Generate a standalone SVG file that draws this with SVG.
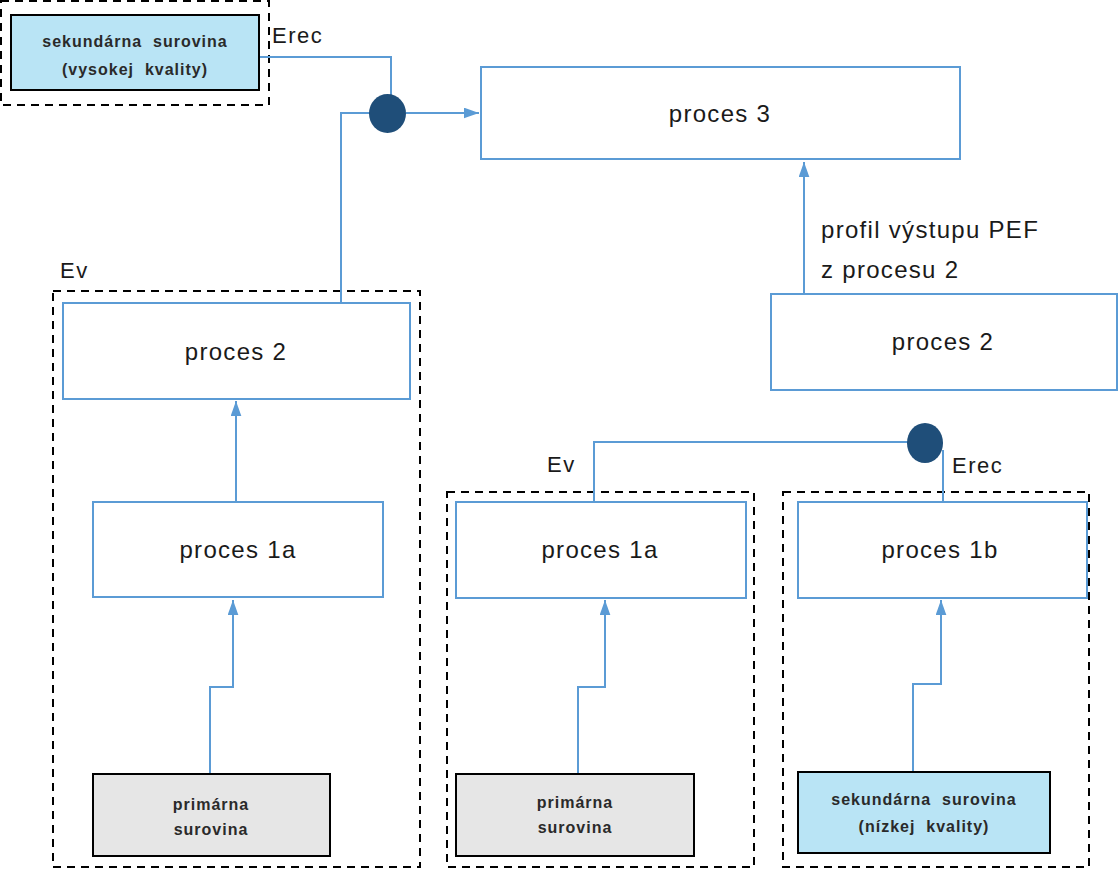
<svg xmlns="http://www.w3.org/2000/svg" width="1118" height="870" viewBox="0 0 1118 870">
<style>
.dash{fill:none;stroke:#000;stroke-width:2;stroke-dasharray:8 6}
.proc{fill:#fff;stroke:#5B9BD5;stroke-width:2}
.raw{stroke:#000;stroke-width:2}
.grey{fill:#E6E6E6}
.cyan{fill:#B9E4F5}
.conn{fill:none;stroke:#5B9BD5;stroke-width:2}
.dot{fill:#1F4E79}
.big{font-family:"Liberation Sans",Arial,sans-serif;font-size:24px;fill:#1a1a1a;letter-spacing:1.3px}
.lbl{font-family:"Liberation Sans",Arial,sans-serif;font-size:22px;fill:#1a1a1a;letter-spacing:1.5px}
.sm{font-family:"Liberation Sans",Arial,sans-serif;font-size:16px;font-weight:bold;fill:#2a2a2a;letter-spacing:1px}
</style>
<defs>
<marker id="ah" viewBox="0 0 14 10" refX="14" refY="5" markerWidth="7.5" markerHeight="5.5" orient="auto" markerUnits="strokeWidth">
<path d="M0,0 L14,5 L0,10 z" fill="#5B9BD5"/>
</marker>
</defs>

<g id="groups">
<rect class="dash" x="1" y="1" width="268" height="104"/>
<rect class="dash" x="53" y="291" width="367" height="576"/>
<rect class="dash" x="447" y="492" width="307" height="375"/>
<rect class="dash" x="783" y="492" width="306" height="375"/>
</g>

<g id="connectors">
<polyline class="conn" points="259,57 391,57 391,95"/>
<polyline class="conn" points="341,303 341,113 370,113"/>
<line class="conn" x1="406" y1="113" x2="479" y2="113" marker-end="url(#ah)"/>
<line class="conn" x1="236" y1="502" x2="236" y2="401" marker-end="url(#ah)"/>
<polyline class="conn" points="210,773 210,687 233,687 233,600" marker-end="url(#ah)"/>
<polyline class="conn" points="578,773 578,687 605,687 605,600" marker-end="url(#ah)"/>
<polyline class="conn" points="913,772 913,684 941,684 941,600" marker-end="url(#ah)"/>
<line class="conn" x1="804" y1="294" x2="804" y2="162" marker-end="url(#ah)"/>
<polyline class="conn" points="594,502 594,442 908,442"/>
<line class="conn" x1="943" y1="450" x2="943" y2="502"/>
<ellipse class="dot" cx="387.5" cy="113.5" rx="18.5" ry="19.5"/>
<ellipse class="dot" cx="925" cy="443" rx="18" ry="20"/>
<text class="lbl" x="272" y="43">Erec</text>
<text class="lbl" x="60" y="278">Ev</text>
<text class="lbl" x="547" y="472">Ev</text>
<text class="lbl" x="952" y="473">Erec</text>
<text class="big" x="821" y="238" letter-spacing="1.5">profil výstupu PEF</text>
<text class="big" x="821" y="278" letter-spacing="1.5">z procesu 2</text>
</g>

<g id="sec-high">
<rect class="raw cyan" x="11" y="15" width="248" height="75"/>
<text class="sm" x="135" y="47" text-anchor="middle">sekundárna&#160; surovina</text>
<text class="sm" x="135" y="75" text-anchor="middle">(vysokej&#160; kvality)</text>
</g>

<g id="proces3">
<rect class="proc" x="481" y="67" width="479" height="92"/>
<text class="big" x="720" y="122" text-anchor="middle">proces 3</text>
</g>

<g id="proces2-left">
<rect class="proc" x="63" y="303" width="347" height="96"/>
<text class="big" x="236" y="360" text-anchor="middle">proces 2</text>
</g>

<g id="proces2-right">
<rect class="proc" x="771" y="294" width="346" height="96"/>
<text class="big" x="943" y="350" text-anchor="middle">proces 2</text>
</g>

<g id="proces1a-left">
<rect class="proc" x="93" y="502" width="290" height="95"/>
<text class="big" x="238" y="558" text-anchor="middle">proces 1a</text>
</g>

<g id="proces1a-mid">
<rect class="proc" x="456" y="502" width="290" height="96"/>
<text class="big" x="600" y="558" text-anchor="middle">proces 1a</text>
</g>

<g id="proces1b">
<rect class="proc" x="798" y="502" width="289" height="96"/>
<text class="big" x="940" y="558" text-anchor="middle">proces 1b</text>
</g>

<g id="prim-left">
<rect class="raw grey" x="93" y="774" width="237" height="82"/>
<text class="sm" x="211" y="810" text-anchor="middle">primárna</text>
<text class="sm" x="211" y="835" text-anchor="middle">surovina</text>
</g>

<g id="prim-mid">
<rect class="raw grey" x="456" y="774" width="238" height="82"/>
<text class="sm" x="575" y="808" text-anchor="middle">primárna</text>
<text class="sm" x="575" y="833" text-anchor="middle">surovina</text>
</g>

<g id="sec-low">
<rect class="raw cyan" x="798" y="772" width="252" height="81"/>
<text class="sm" x="924" y="805" text-anchor="middle">sekundárna&#160; surovina</text>
<text class="sm" x="924" y="832" text-anchor="middle">(nízkej&#160; kvality)</text>
</g>
</svg>
